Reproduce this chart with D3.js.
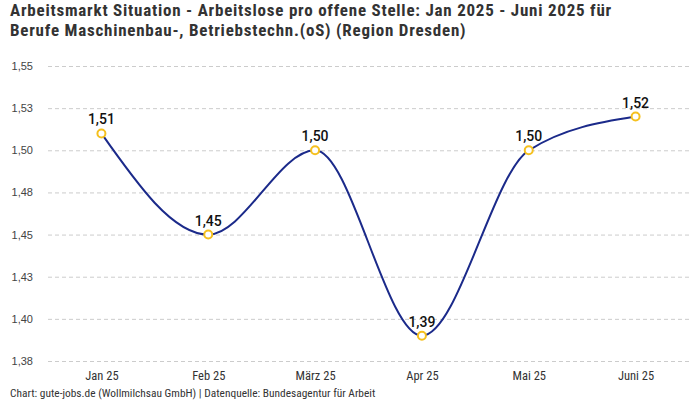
<!DOCTYPE html>
<html>
<head>
<meta charset="utf-8">
<script src="https://cdn.jsdelivr.net/npm/d3@7"></script>
<style>
  body { margin: 0; background: #fff; }
  svg { display: block; }
</style>
</head>
<body>
<div id="chart"></div>
<script>
const months = ['Jan 25', 'Feb 25', 'März 25', 'Apr 25', 'Mai 25', 'Juni 25'];
const values = [1.51, 1.45, 1.50, 1.39, 1.50, 1.52];
const yTicks = [1.375, 1.4, 1.425, 1.45, 1.475, 1.5, 1.525, 1.55];
const titleLines = [
    'Arbeitsmarkt Situation - Arbeitslose pro offene Stelle: Jan 2025 - Juni 2025 für',
    'Berufe Maschinenbau-, Betriebstechn.(oS) (Region Dresden)'
];
const footer = 'Chart: gute-jobs.de (Wollmilchsau GmbH) | Datenquelle: Bundesagentur für Arbeit';

const width = 700, height = 400;
const margin = { top: 66, right: 11, bottom: 39, left: 48 };
const condensed = '"Roboto Condensed", "Liberation Sans Narrow", Roboto, sans-serif';

const svg = d3.select('#chart')
    .append('svg')
    .attr('width', width)
    .attr('height', height);

// round half up, German decimal comma
const fmt = v => (Math.round(v * 100 + 1e-9) / 100).toFixed(2).replace('.', ',');

const x = d3.scalePoint()
    .domain(months)
    .range([margin.left, width - margin.right])
    .padding(0.5);

const y = d3.scaleLinear()
    .domain([1.375, 1.55])
    .range([height - margin.bottom, margin.top]);

// title
svg.append('g')
    .selectAll('text')
    .data(titleLines)
    .join('text')
    .attr('x', 10)
    .attr('y', (d, i) => 16 + i * 19.5)
    .attr('font-family', condensed)
    .attr('font-size', '17px')
    .attr('letter-spacing', '0.77px')
    .attr('font-weight', 'bold')
    .attr('fill', '#333')
    .text(d => d);

// grid + y labels
const yAxis = svg.append('g')
    .attr('transform', `translate(${margin.left},0)`)
    .call(d3.axisLeft(y).tickValues(yTicks).tickSize(-(width - margin.left - margin.right)).tickFormat(fmt));
yAxis.select('.domain').remove();
yAxis.selectAll('.tick line')
    .attr('stroke', '#ccc')
    .attr('stroke-dasharray', '4,3');
yAxis.selectAll('.tick text')
    .attr('x', -15)
    .attr('fill', '#444')
    .attr('font-family', '"Liberation Sans", Arial, sans-serif')
    .attr('font-size', '11px');

// x labels
const xAxis = svg.append('g')
    .attr('transform', `translate(0,${height - margin.bottom})`)
    .call(d3.axisBottom(x).tickSize(0).tickPadding(10));
xAxis.select('.domain').remove();
xAxis.selectAll('.tick text')
    .attr('fill', '#333')
    .attr('font-family', condensed)
    .attr('font-size', '12.5px');

const data = months.map((m, i) => ({ m, v: values[i] }));

// line
svg.append('path')
    .datum(data)
    .attr('fill', 'none')
    .attr('stroke', '#1b2a8a')
    .attr('stroke-width', 2)
    .attr('d', d3.line().x(d => x(d.m)).y(d => y(d.v)).curve(d3.curveMonotoneX));

// points
svg.append('g')
    .selectAll('circle')
    .data(data)
    .join('circle')
    .attr('cx', d => x(d.m))
    .attr('cy', d => y(d.v))
    .attr('r', 4)
    .attr('fill', '#fff')
    .attr('stroke', '#f5c01e')
    .attr('stroke-width', 2);

// value labels
svg.append('g')
    .selectAll('text')
    .data(data)
    .join('text')
    .attr('x', d => x(d.m))
    .attr('y', d => y(d.v) - 9)
    .attr('text-anchor', 'middle')
    .attr('font-family', 'Roboto, "Liberation Sans", Arial, sans-serif')
    .attr('font-size', '14px')
    .attr('font-weight', 500)
    .attr('fill', '#111')
    .text(d => fmt(d.v));

// footer
svg.append('text')
    .attr('x', 10)
    .attr('y', 397)
    .attr('font-family', condensed)
    .attr('font-size', '11.4px')
    .attr('fill', '#333')
    .text(footer);
</script>
</body>
</html>
